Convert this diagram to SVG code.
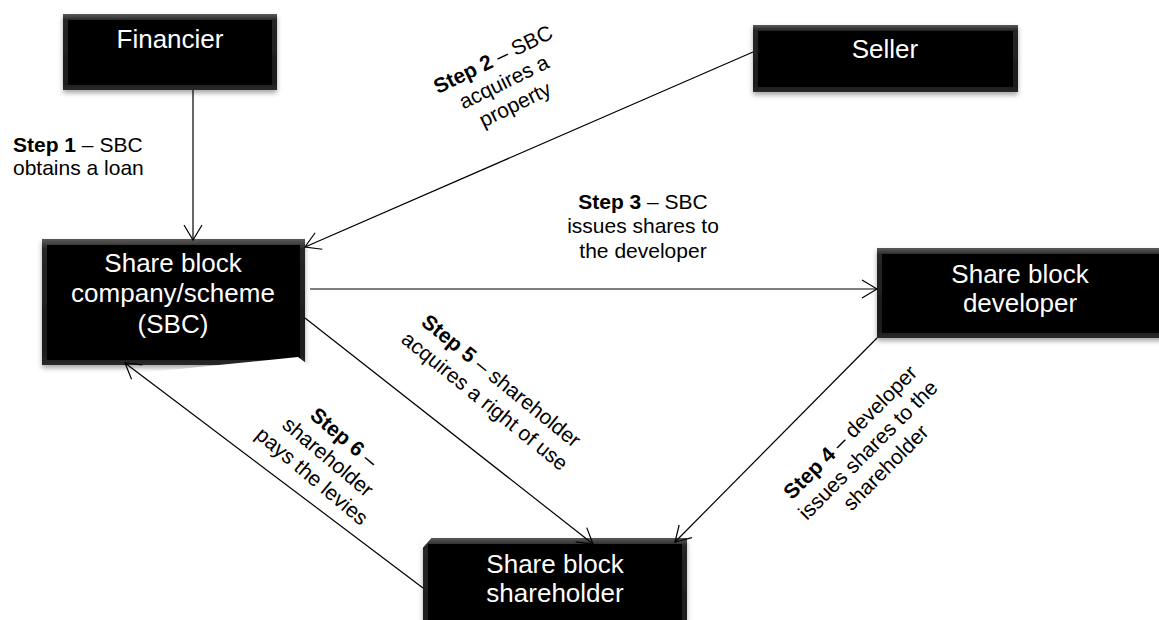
<svg xmlns="http://www.w3.org/2000/svg" width="1159" height="620" viewBox="0 0 1159 620">
<style>
.lbl{font-family:"Liberation Sans",Arial,sans-serif;font-size:21px;fill:#000}
.b{font-weight:bold}
.nt{font-family:"Liberation Sans",Arial,sans-serif;font-size:26px;fill:#fff;text-anchor:middle}
.edge{fill:none;stroke:#000;stroke-width:1.2}
.inner{fill:#000}
.outer{fill:url(#bev);filter:url(#sh)}
</style>
<defs>
<linearGradient id="bev" x1="0" y1="0" x2="0" y2="1">
<stop offset="0" stop-color="#5a5a5a"/>
<stop offset="0.08" stop-color="#262626"/>
<stop offset="0.9" stop-color="#1a1a1a"/>
<stop offset="1" stop-color="#2a2a2a"/>
</linearGradient>
<filter id="sh" x="-10%" y="-10%" width="120%" height="130%">
<feDropShadow dx="0" dy="3" stdDeviation="2.5" flood-color="#000" flood-opacity="0.35"/>
</filter>
<marker id="arr" viewBox="0 0 20 20" markerWidth="20" markerHeight="20" refX="16" refY="10" orient="auto" markerUnits="userSpaceOnUse">
<path d="M1,1 L16,10 L1,19" fill="none" stroke="#000" stroke-width="1.2"/>
</marker>
</defs>
<rect width="1159" height="620" fill="#fff"/>

<g id="financier">
<rect class="outer" x="63" y="14" width="214" height="76"/>
<rect class="inner" x="68" y="20" width="204" height="65"/>
<text class="nt" x="170" y="48">Financier</text>
</g>

<g id="seller">
<rect class="outer" x="753" y="25" width="265" height="67"/>
<rect class="inner" x="758" y="31" width="255" height="56"/>
<text class="nt" x="885" y="58">Seller</text>
</g>

<g id="sbc">
<rect class="outer" x="42" y="239" width="263" height="126"/>
<rect class="inner" x="47" y="245" width="253" height="115"/>
<text class="nt" x="173" y="272">Share block</text>
<text class="nt" x="173" y="302">company/scheme</text>
<text class="nt" x="173" y="333">(SBC)</text>
</g>

<g id="developer">
<rect class="outer" x="877" y="248" width="290" height="90"/>
<rect class="inner" x="882" y="254" width="285" height="79"/>
<text class="nt" x="1020" y="283">Share block</text>
<text class="nt" x="1020" y="312">developer</text>
</g>

<g id="shareholder">
<rect class="outer" x="423" y="538" width="264" height="100"/>
<rect class="inner" x="428" y="544" width="254" height="90"/>
<text class="nt" x="555" y="573">Share block</text>
<text class="nt" x="555" y="602">shareholder</text>
</g>

<g id="label-masks" fill="#fff">
<polygon points="140,373 298,357 310,366 310,382 140,382"/>
<polygon points="420,535 434,535 420,551"/>
</g>

<g id="connectors">
<line class="edge" x1="193" y1="90" x2="193" y2="240" marker-end="url(#arr)"/>
<line class="edge" x1="753" y1="52" x2="305" y2="247" marker-end="url(#arr)"/>
<line class="edge" x1="310" y1="289" x2="877" y2="289" marker-end="url(#arr)"/>
<line class="edge" x1="877" y1="338" x2="675" y2="542" marker-end="url(#arr)"/>
<line class="edge" x1="305" y1="318" x2="593" y2="544" stroke-width="2" marker-end="url(#arr)"/>
<line class="edge" x1="423" y1="588" x2="125" y2="363" marker-end="url(#arr)"/>
</g>

<g id="labels">
<text class="lbl" x="13" y="152"><tspan class="b">Step 1</tspan> – SBC</text>
<text class="lbl" x="13" y="175">obtains a loan</text>

<g transform="translate(504,82) rotate(-26)">
<text class="lbl" text-anchor="middle" x="0" y="-18"><tspan class="b">Step 2</tspan> – SBC</text>
<text class="lbl" text-anchor="middle" x="0" y="7">acquires a</text>
<text class="lbl" text-anchor="middle" x="0" y="32">property</text>
</g>

<g text-anchor="middle">
<text class="lbl" x="643" y="209"><tspan class="b">Step 3</tspan> – SBC</text>
<text class="lbl" x="643" y="233">issues shares to</text>
<text class="lbl" x="643" y="258">the developer</text>
</g>

<g transform="translate(868,450) rotate(-45)">
<text class="lbl" text-anchor="middle" x="0" y="-18"><tspan class="b">Step 4</tspan> – developer</text>
<text class="lbl" text-anchor="middle" x="0" y="7">issues shares to the</text>
<text class="lbl" text-anchor="middle" x="0" y="32">shareholder</text>
</g>

<g transform="translate(493,391) rotate(39)">
<text class="lbl" text-anchor="middle" x="0" y="-6"><tspan class="b">Step 5</tspan> – shareholder</text>
<text class="lbl" text-anchor="middle" x="0" y="20">acquires a right of use</text>
</g>

<g transform="translate(328,457) rotate(40)">
<text class="lbl" text-anchor="middle" x="0" y="-18"><tspan class="b">Step 6</tspan> –</text>
<text class="lbl" text-anchor="middle" x="0" y="7">shareholder</text>
<text class="lbl" text-anchor="middle" x="0" y="32">pays the levies</text>
</g>
</g>
</svg>
